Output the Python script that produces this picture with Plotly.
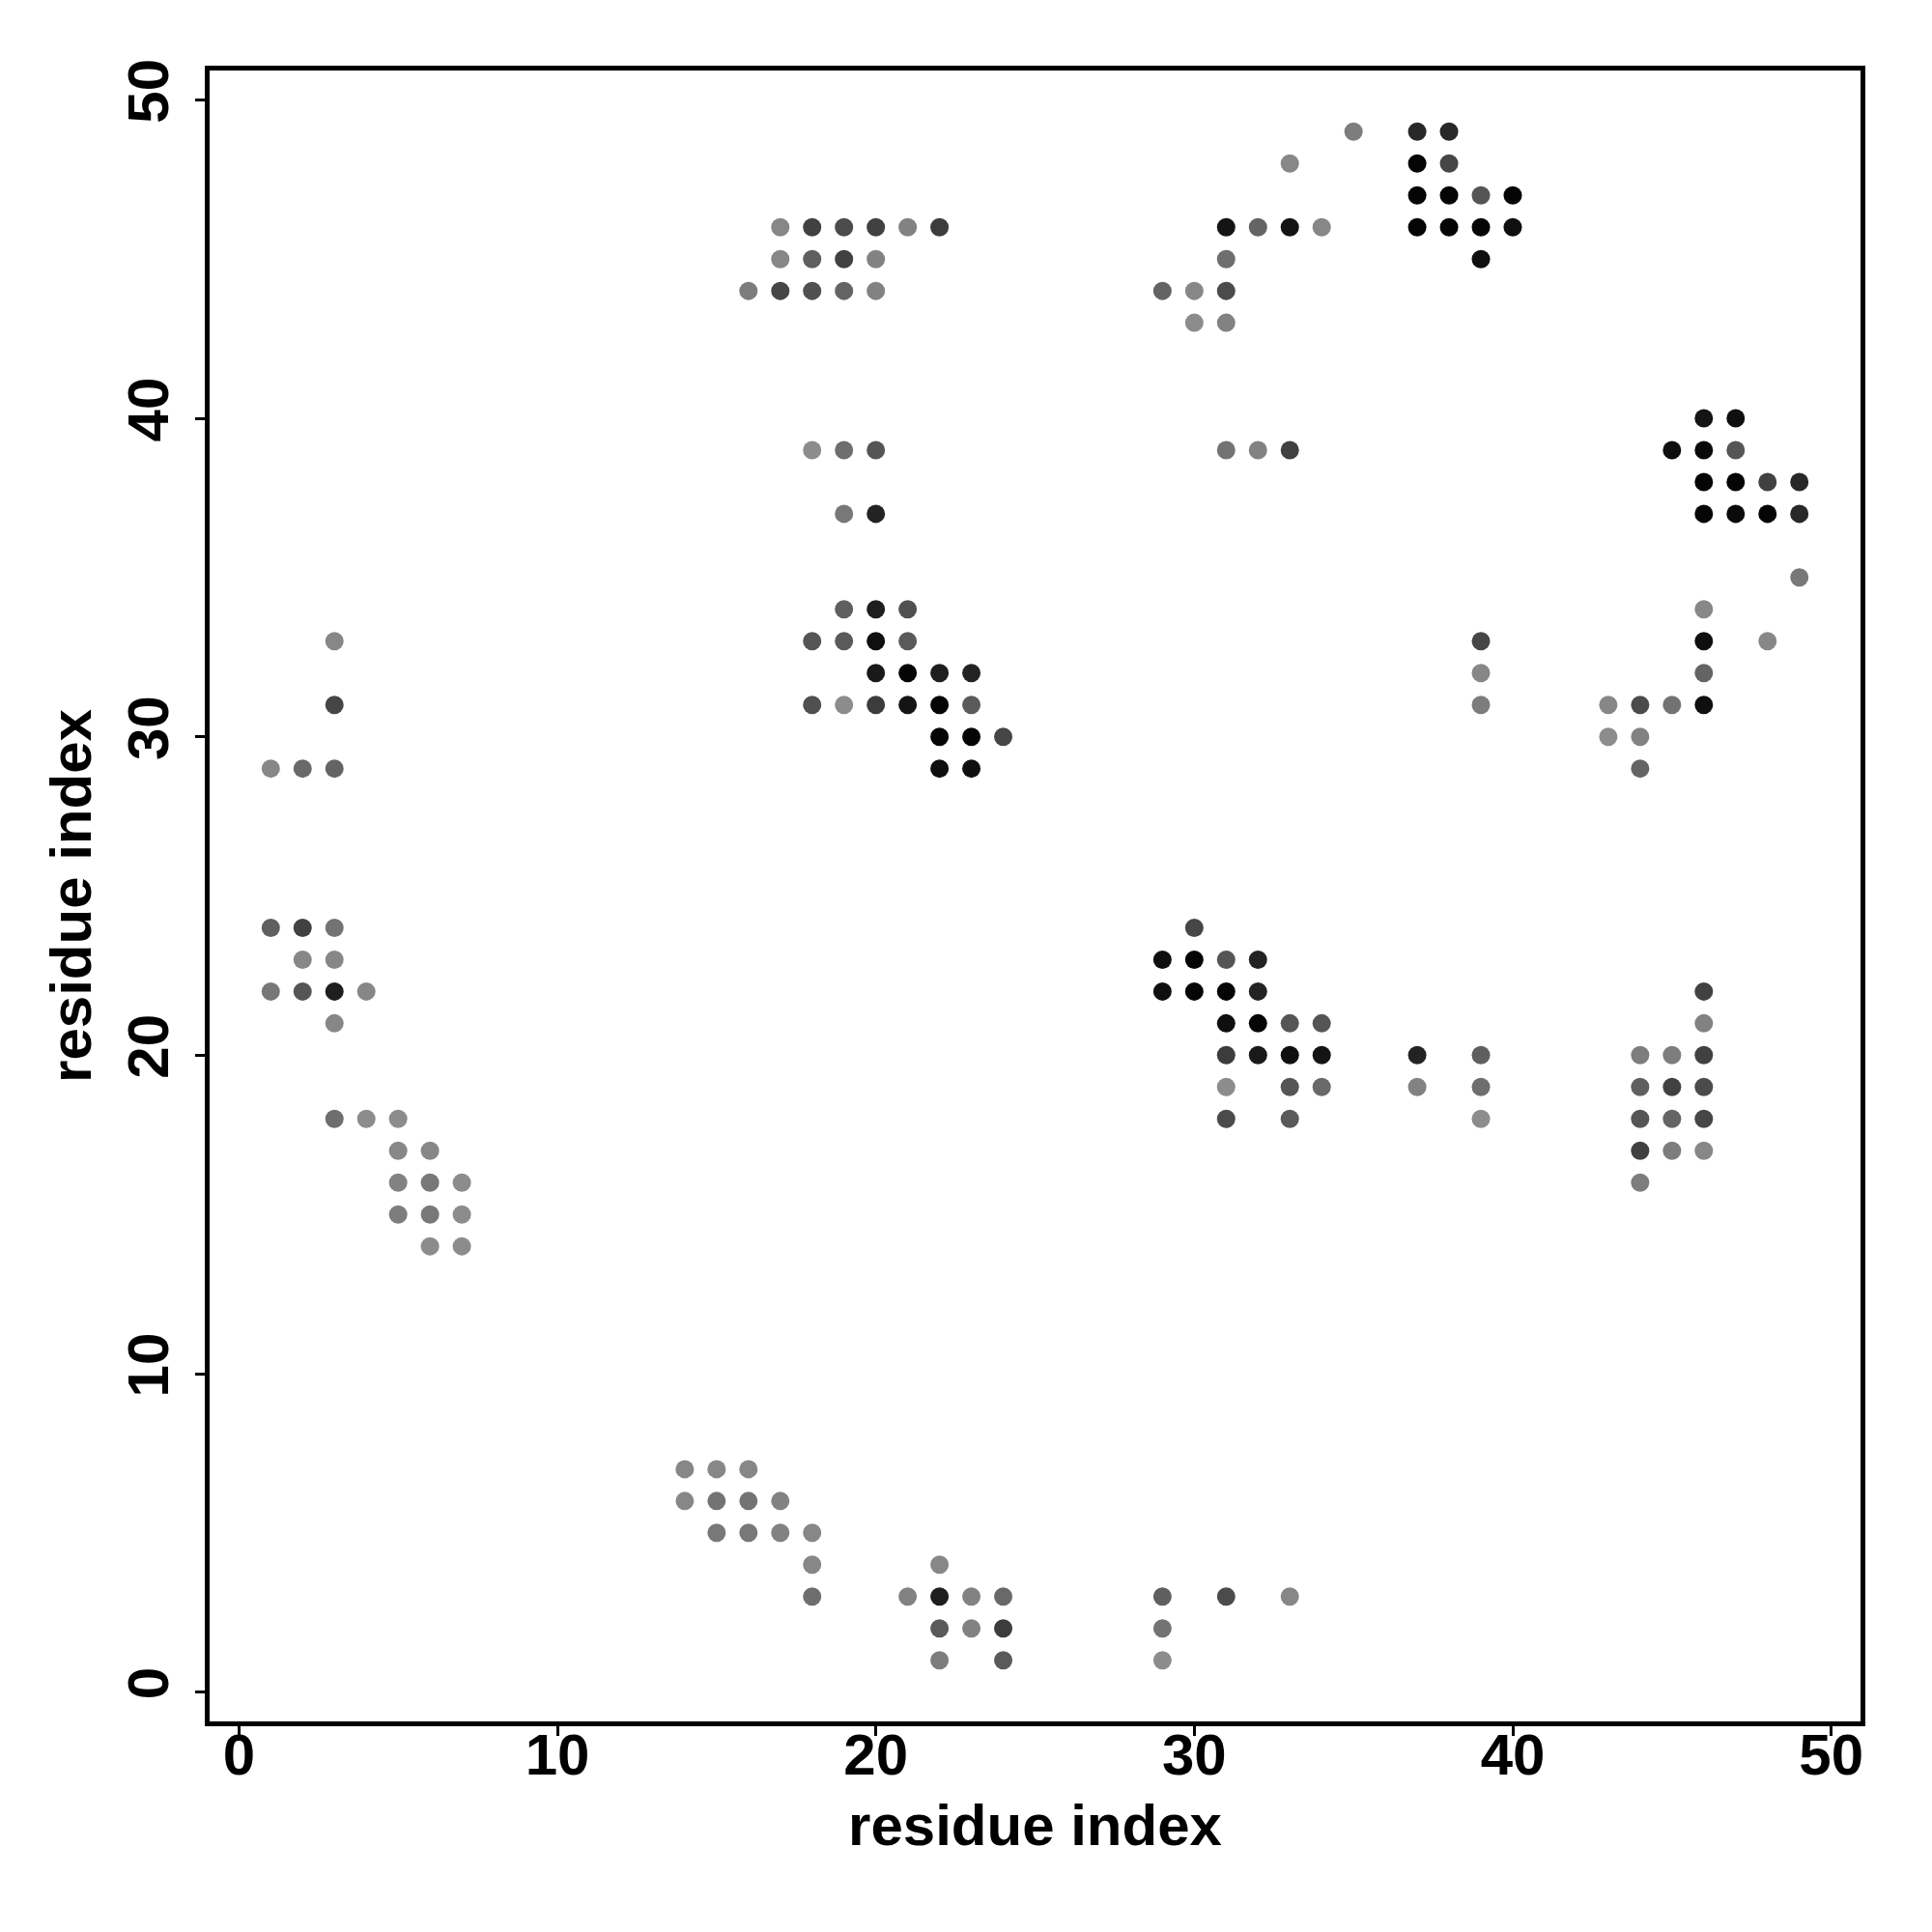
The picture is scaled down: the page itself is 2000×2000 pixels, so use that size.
import plotly.graph_objects as go

# contact map: residue i, residue j, grey level of the dot (0 = black, 140 = light grey)
res_i = [17, 18, 19, 20, 21, 22, 17, 18, 19, 20, 16, 17, 18, 19, 20, 18, 19, 20, 19, 20,
         19, 20, 21, 18, 19, 20, 21, 20, 21, 22, 23, 18, 19, 20, 21, 22, 23, 22, 23, 24, 22, 23,
         3, 3, 1, 2, 3, 1, 2, 3, 2, 3, 1, 2, 3, 4, 3, 3, 4, 5, 5, 6, 5, 6, 7, 5, 6, 7, 6, 7,
         14, 15, 16, 14, 15, 16, 17, 15, 16, 17, 18, 18, 22, 18, 21, 22, 23, 24, 22, 23, 24, 22, 24,
         29, 29, 29, 31, 33,
         35, 37, 38, 33, 37, 38, 37, 38, 39, 40, 31, 32, 33, 34, 37, 38, 39, 40, 31, 39, 29, 30, 31,
         30, 31, 31, 32, 33,
         46, 47, 45, 46, 47, 46, 47, 48, 49, 46, 47, 48, 49, 49, 46, 46, 48, 46, 43, 44, 45, 46,
         43, 44, 44, 39, 39, 39,
         30, 29, 30, 31, 32, 29, 30, 31, 32, 31, 32, 33, 34, 31, 32, 33, 34, 37, 39,
         31, 33, 34, 37, 39, 31, 33, 39,
         46, 46, 44, 45, 46, 44, 45, 46, 44, 45, 46, 44, 45, 46, 44]
res_j = [46, 46, 46, 46, 46, 46, 45, 45, 45, 45, 44, 44, 44, 44, 44, 39, 39, 39, 37, 37,
         34, 34, 34, 33, 33, 33, 33, 32, 32, 32, 32, 31, 31, 31, 31, 31, 31, 30, 30, 30, 29, 29,
         33, 31, 29, 29, 29, 24, 24, 24, 23, 23, 22, 22, 22, 22, 21, 18, 18, 18, 17, 17, 16, 16, 16,
         15, 15, 15, 14, 14,
         7, 7, 7, 6, 6, 6, 6, 5, 5, 5, 5, 4, 4, 3, 3, 3, 3, 3, 2, 2, 2, 1, 1,
         3, 2, 1, 3, 3,
         49, 49, 49, 48, 48, 48, 47, 47, 47, 47, 46, 46, 46, 46, 46, 46, 46, 46, 45, 45, 44, 44, 44,
         43, 43, 39, 39, 39,
         40, 40, 39, 39, 39, 38, 38, 38, 38, 37, 37, 37, 37, 35, 34, 33, 33, 32, 31, 31, 31, 31,
         30, 30, 29, 33, 32, 31,
         24, 23, 23, 23, 23, 22, 22, 22, 22, 21, 21, 21, 21, 20, 20, 20, 20, 20, 20,
         19, 19, 19, 19, 19, 18, 18, 18,
         22, 21, 20, 20, 20, 19, 19, 19, 18, 18, 18, 17, 17, 17, 16]
gray_level = [135, 65, 75, 65, 130, 60, 135, 95, 65, 130, 125, 70, 80, 100, 130, 140, 110, 85, 120, 35,
              95, 30, 80, 85, 90, 15, 90, 25, 5, 30, 35, 80, 140, 60, 20, 5, 90, 5, 5, 70, 15, 15,
              135, 70, 135, 105, 100, 95, 65, 115, 135, 135, 120, 85, 30, 135, 135, 110, 140, 140,
              135, 135, 130, 120, 140, 125, 120, 140, 140, 140,
              135, 135, 135, 135, 115, 115, 130, 120, 120, 130, 135, 135, 135, 110, 130, 30, 130, 105,
              90, 130, 60, 125, 90,
              95, 115, 140, 75, 135,
              125, 40, 40, 135, 5, 70, 5, 5, 85, 5, 20, 100, 20, 135, 5, 5, 5, 15, 110, 15, 100, 135, 75,
              140, 130, 115, 130, 65,
              20, 15, 15, 10, 85, 5, 5, 65, 40, 5, 10, 5, 40, 120, 135, 15, 135, 100, 135, 75, 115, 15,
              140, 130, 100, 70, 135, 125,
              70, 15, 5, 85, 35, 15, 5, 5, 35, 15, 5, 85, 85, 60, 25, 15, 20, 35, 95,
              140, 85, 105, 130, 110, 75, 90, 140,
              65, 130, 125, 125, 65, 95, 65, 75, 85, 100, 70, 65, 125, 135, 125]

tick_vals = [0, 10, 20, 30, 40, 50]
tick_text = ["0", "10", "20", "30", "40", "50"]
axis_title = "residue index"

colors = [f"rgb({g},{g},{g})" for g in gray_level]

fig = go.Figure(go.Scatter(
    x=res_i, y=res_j, mode="markers",
    marker=dict(size=19, color=colors, line=dict(width=0)),
    showlegend=False,
))

font_main = dict(family="Liberation Sans, Arial, sans-serif", size=60, color="black", weight="bold")

axis_common = dict(
    range=[-0.92, 50.92], tickvals=tick_vals, ticktext=tick_text,
    showgrid=False, zeroline=False,
    showline=True, linecolor="black", linewidth=5, mirror=True,
    ticks="outside", ticklen=10, tickwidth=3, tickcolor="black",
    tickfont=font_main,
)

fig.update_layout(
    width=2000, height=2000,
    margin=dict(l=209, r=82, t=65, b=226, autoexpand=False),
    paper_bgcolor="white", plot_bgcolor="white",
    xaxis=dict(**axis_common, ticklabelstandoff=-32,
               title=dict(text=axis_title, font=font_main, standoff=20)),
    yaxis=dict(**axis_common, tickangle=-90, ticklabelstandoff=4,
               title=dict(text=axis_title, font=font_main, standoff=8)),
)

fig.write_html("out.html")
